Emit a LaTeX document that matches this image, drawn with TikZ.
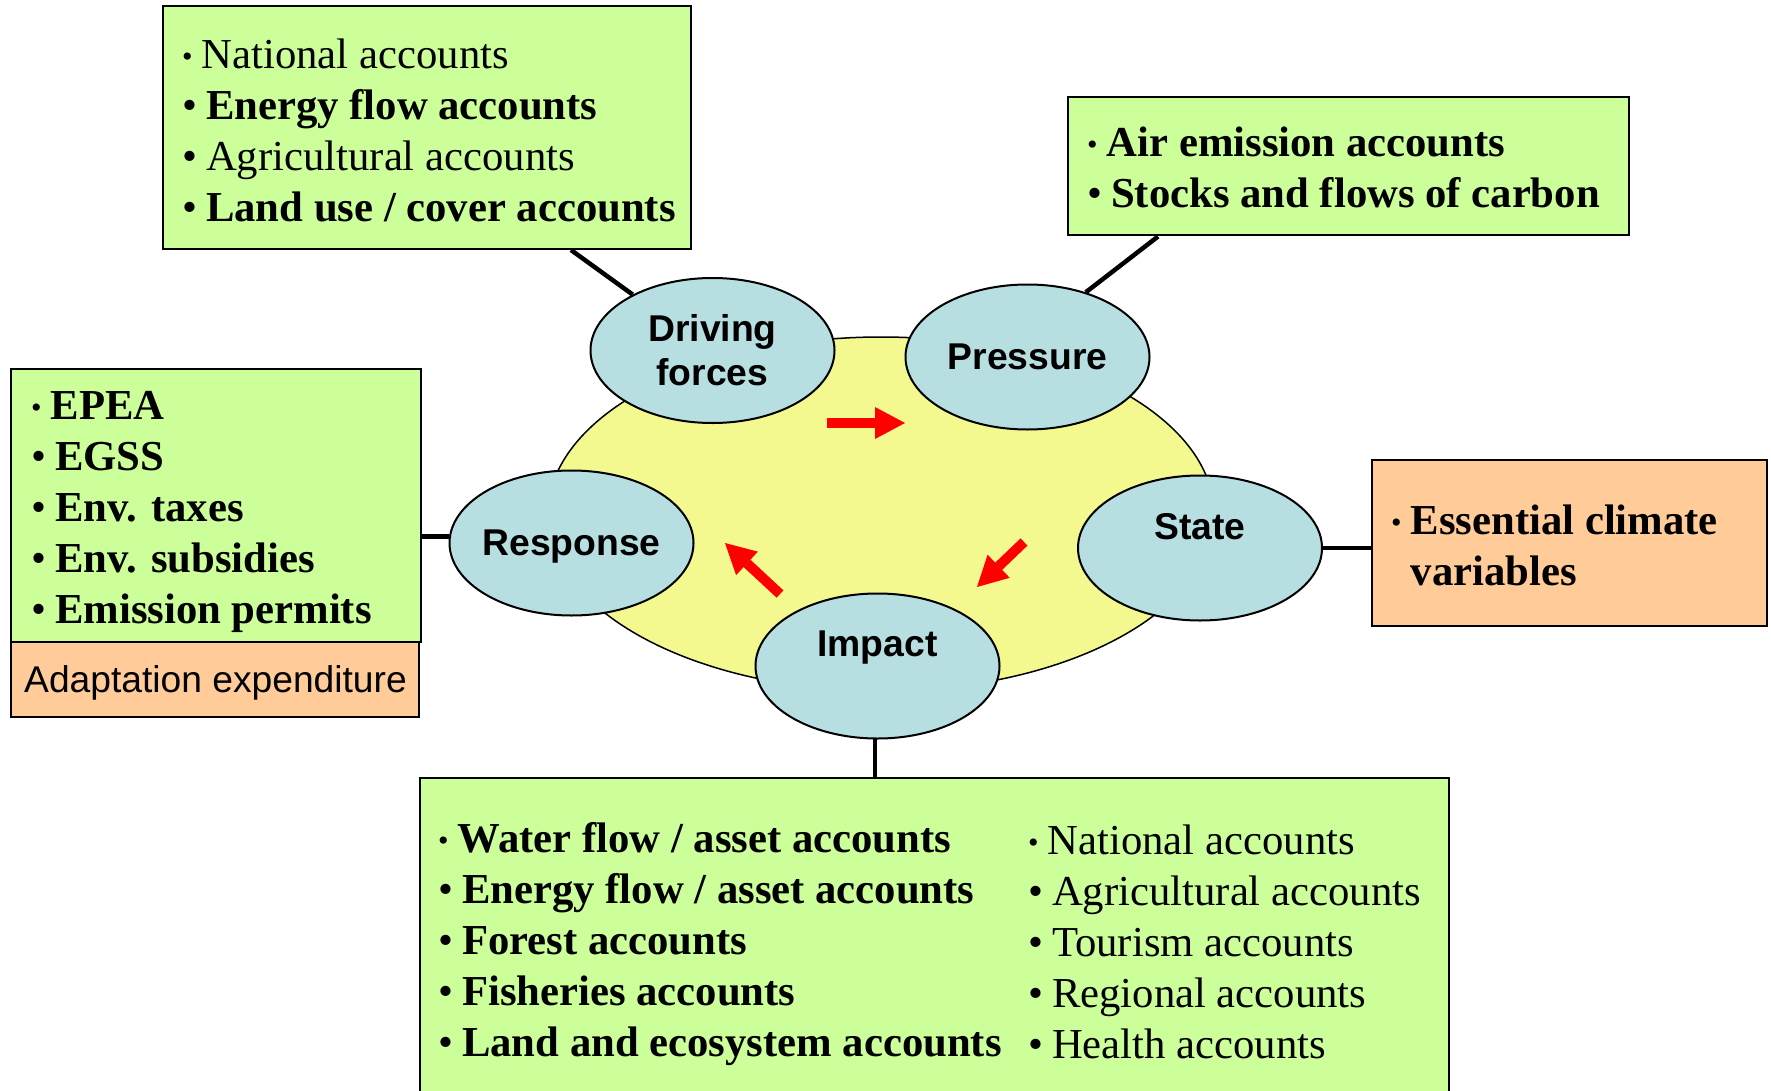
\documentclass[tikz,border=0pt]{standalone}
\usepackage{fontspec}
\setmainfont{Liberation Serif}
\newfontfamily\arialfont{Liberation Sans}
\usetikzlibrary{arrows.meta,shapes.geometric}
\definecolor{boxgreen}{RGB}{204,255,153}
\definecolor{boxorange}{RGB}{255,204,153}
\definecolor{ellblue}{RGB}{183,223,226}
\definecolor{cycyellow}{RGB}{243,248,143}
\newcommand{\smallbul}{\raisebox{2pt}{\fontsize{30}{30}\selectfont •}\kern9pt\relax}
\newcommand{\bul}{•\kern9pt\relax}
\begin{document}
\begin{tikzpicture}[x=1pt,y=-1pt,
  gbox/.style={rectangle, draw=black, line width=2pt, fill=boxgreen, inner sep=0pt},
  obox/.style={rectangle, draw=black, line width=2pt, fill=boxorange, inner sep=0pt},
  ell/.style={ellipse, draw=black, line width=2pt, fill=ellblue, minimum width=244pt,
    minimum height=145pt, inner sep=0pt, align=center,
    font=\fontsize{37.3}{44}\selectfont\arialfont\bfseries},
  txt/.style={inner sep=0pt, font=\fontsize{42.7}{51}\selectfont},
  conn/.style={draw=black, line width=4.5pt},
  redarr/.style={draw=red, line width=10pt, -{Triangle[length=30pt,width=32pt,line width=0pt]}}]
\useasboundingbox (0,0) rectangle (1771,1091);
\fill[white] (0,0) rectangle (1771,1091);

% central cycle
\node[ellipse, draw=black, line width=1.5pt, fill=cycyellow, minimum width=666pt,
  minimum height=354pt, inner sep=0pt] (cycle) at (881,514) {};

\node[ell] (df) at (712.5,350.5) {Driving\\forces};
\node[ell] (pr) at (1027.5,357) {Pressure};
\node[ell] (st) at (1200,548) {State\\\mbox{}};
\node[ell, text depth=0pt] (resp) at (571.5,543) {\makebox[0pt]{Response}};
\node[ell] (imp) at (877.5,666) {Impact\\\mbox{}};

% red cycle arrows
\coordinate (a1s) at (827,423);
\coordinate (a1e) at (905,423);
\coordinate (a2s) at (1024,542);
\coordinate (a2e) at (977,587);
\coordinate (a3s) at (780,594);
\coordinate (a3e) at (725,543);
\draw[redarr] (a1s) -- (a1e);
\draw[redarr] (a2s) -- (a2e);
\draw[redarr] (a3s) -- (a3e);

% boxes
\node[gbox, minimum width=528pt, minimum height=243pt] (dfbox) at (427,127.5) {};
\node[gbox, minimum width=561pt, minimum height=138pt] (prbox) at (1348.5,166.5) {};
\node[gbox, minimum width=410pt, minimum height=273pt] (epbox) at (216,505.5) {};
\node[obox, minimum width=408pt, minimum height=75pt] (adbox) at (215,679.5) {};
\node[obox, minimum width=395pt, minimum height=166pt] (ecvbox) at (1569.5,543) {};
\node[gbox, anchor=north west, minimum width=1029pt, minimum height=350pt] (ibox) at (418.5,777) {};

% connectors
\draw[conn] ([xshift=409pt]dfbox.south west) -- (df.145);
\draw[conn] ([xshift=91pt]prbox.south west) -- (pr.48);
\draw[conn] (resp.177) -- (resp.177 -| epbox.east);
\draw[conn] (st.east) -- (st.east -| ecvbox.west);
\draw[conn] (imp.268) -- (imp.268 |- ibox.north);

% texts
\node[txt, anchor=base west] (dftext) at (182,69) {\begin{tabular}[t]{@{}l@{}}
\smallbul National accounts\\
\bul\textbf{Energy flow accounts}\\
\bul Agricultural accounts\\
\bul\textbf{Land use / cover accounts}\end{tabular}};

\node[txt, anchor=base west] (prtext) at (1087,157) {\begin{tabular}[t]{@{}l@{}}
\smallbul\textbf{Air emission accounts}\\
\bul\textbf{Stocks and flows of carbon}\end{tabular}};

\node[txt, anchor=base west] (eptext) at (31,419) {\begin{tabular}[t]{@{}l@{}}
\smallbul\textbf{EPEA}\\
\bul\textbf{EGSS}\\
\bul\textbf{Env. taxes}\\
\bul\textbf{Env. subsidies}\\
\bul\textbf{Emission permits}\end{tabular}};

\node[inner sep=0pt, anchor=base west, font=\fontsize{37.2}{44}\selectfont\arialfont] (adtext) at (24,692) {Adaptation expenditure};

\node[txt, anchor=base west] (ecvtext) at (1391,534) {\begin{tabular}[t]{@{}l@{}l@{}}
\smallbul & \textbf{Essential climate}\\
 & \textbf{variables}\end{tabular}};

\node[txt, anchor=base west] (itextl) at (438,852) {\begin{tabular}[t]{@{}l@{}}
\smallbul\textbf{Water flow / asset accounts}\\
\bul\textbf{Energy flow / asset accounts}\\
\bul\textbf{Forest accounts}\\
\bul\textbf{Fisheries accounts}\\
\bul\textbf{Land and ecosystem accounts}\end{tabular}};

\node[txt, anchor=base west] (itextr) at (1028,854) {\begin{tabular}[t]{@{}l@{}}
\smallbul National accounts\\
\bul Agricultural accounts\\
\bul Tourism accounts\\
\bul Regional accounts\\
\bul Health accounts\end{tabular}};
\end{tikzpicture}
\end{document}
